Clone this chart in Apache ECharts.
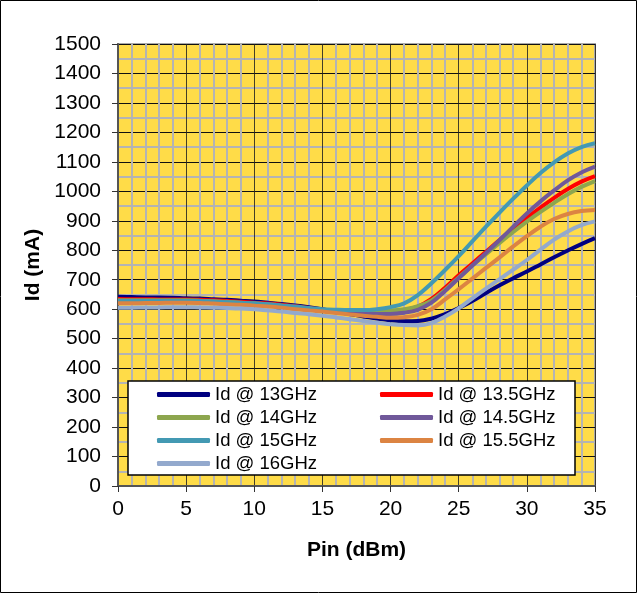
<!DOCTYPE html>
<html>
<head>
<meta charset="utf-8">
<script src="https://cdn.jsdelivr.net/npm/echarts@6/dist/echarts.min.js"></script>
<style>
html,body{margin:0;padding:0;background:#fff;}
#c{width:637px;height:593px;}
</style>
</head>
<body>
<div id="c"></div>
<script>
// Pin (dBm) sample points: 0, 1, 2, ... 35
const pinValues = [0, 1, 2, 3, 4, 5, 6, 7, 8, 9, 10, 11, 12, 13, 14, 15, 16, 17, 18, 19, 20, 21, 22, 23, 24, 25, 26, 27, 28, 29, 30, 31, 32, 33, 34, 35];
// Id (mA) per frequency
const id13 = [642, 641, 640, 640, 639, 637, 636, 634, 632, 629, 626, 622, 618, 613, 607, 600, 592, 584, 575, 568, 562, 559, 560, 568, 583, 604, 628, 655, 681, 705, 728, 752, 776, 799, 821, 841];
const id135 = [635, 634, 634, 633, 633, 633, 632, 630, 628, 625, 622, 619, 615, 610, 604, 598, 594, 591, 589, 589, 590, 597, 609, 635, 673, 715, 755, 795, 835, 873, 910, 945, 978, 1008, 1033, 1052];
const id14 = [630, 630, 630, 630, 630, 630, 629, 627, 625, 622, 620, 617, 612, 607, 602, 597, 594, 591, 590, 591, 595, 600, 610, 630, 666, 708, 748, 787, 825, 862, 897, 930, 961, 990, 1015, 1035];
const id145 = [625, 626, 626, 627, 627, 627, 626, 624, 622, 620, 618, 615, 611, 606, 600, 595, 591, 588, 585, 584, 584, 588, 598, 622, 662, 705, 748, 791, 835, 880, 925, 966, 1003, 1037, 1064, 1084];
const id15 = [628, 628, 628, 628, 628, 628, 627, 626, 624, 622, 620, 617, 613, 609, 604, 600, 598, 597, 597, 600, 607, 620, 648, 688, 733, 780, 830, 880, 928, 975, 1020, 1062, 1098, 1128, 1150, 1163];
const id155 = [620, 620, 621, 621, 622, 622, 621, 619, 617, 615, 612, 609, 605, 600, 596, 592, 587, 582, 578, 574, 571, 573, 581, 600, 633, 668, 704, 740, 776, 813, 848, 880, 906, 923, 933, 937];
const id16 = [605, 605, 606, 606, 607, 607, 606, 605, 604, 602, 600, 596, 592, 587, 583, 578, 572, 566, 560, 554, 549, 546, 545, 553, 575, 603, 637, 670, 702, 734, 767, 802, 836, 864, 885, 898];

const seriesNames = ['Id @ 13GHz', 'Id @ 13.5GHz', 'Id @ 14GHz', 'Id @ 14.5GHz', 'Id @ 15GHz', 'Id @ 15.5GHz', 'Id @ 16GHz'];
const seriesData = [id13, id135, id14, id145, id15, id155, id16];
const seriesColors = ['#000080', '#FF0000', '#8DA64E', '#70589A', '#4399B3', '#DC8442', '#93A9CD'];

const FONT = '"Liberation Sans", Arial, sans-serif';

const chart = echarts.init(document.getElementById('c'), null, {renderer: 'canvas'});

const series = seriesNames.map((name, i) => ({
  name: name,
  type: 'line',
  smooth: 0.4,
  symbol: 'none',
  z: 2,
  lineStyle: {width: 4, color: seriesColors[i]},
  itemStyle: {color: seriesColors[i]},
  data: pinValues.map((x, j) => [x, seriesData[i][j]])
}));

const legendCommon = {
  orient: 'vertical',
  icon: 'roundRect',
  itemWidth: 53,
  itemHeight: 5,
  itemGap: 4,
  z: 10,
  textStyle: {fontFamily: FONT, fontSize: 18.5, color: '#000', padding: [0, 0, 0, 0]}
};

chart.setOption({
  animation: false,
  backgroundColor: '#fff',
  grid: {
    left: 118, right: 42, top: 44, bottom: 107,
    show: true, backgroundColor: '#FFDC48', borderColor: '#A8A8A8', borderWidth: 2
  },
  xAxis: {
    type: 'value', min: 0, max: 35, interval: 5,
    name: 'Pin (dBm)', nameLocation: 'middle', nameGap: 54,
    nameTextStyle: {fontFamily: FONT, fontSize: 21, fontWeight: 'bold', color: '#000'},
    axisLine: {show: true, onZero: false, lineStyle: {color: '#555', width: 2}},
    axisTick: {show: true, inside: false, length: 6, lineStyle: {color: '#333', width: 1}},
    axisLabel: {fontFamily: FONT, fontSize: 21, color: '#000', margin: 13},
    splitLine: {show: true, lineStyle: {color: '#222', width: 1, opacity: 0.85}},
    minorTick: {show: false, splitNumber: 5},
    minorSplitLine: {show: true, lineStyle: {color: '#B4B4B4', width: 2}}
  },
  yAxis: {
    type: 'value', min: 0, max: 1500, interval: 100,
    name: 'Id (mA)', nameLocation: 'middle', nameGap: 72, nameRotate: 90,
    nameTextStyle: {fontFamily: FONT, fontSize: 21, fontWeight: 'bold', color: '#000'},
    axisLine: {show: true, lineStyle: {color: '#555', width: 2}},
    axisTick: {show: true, inside: false, length: 6, lineStyle: {color: '#333', width: 1}},
    axisLabel: {fontFamily: FONT, fontSize: 21, color: '#000', margin: 17, formatter: v => String(v)},
    splitLine: {show: true, lineStyle: {color: '#111', width: 1}},
    minorTick: {show: false, splitNumber: 2},
    minorSplitLine: {show: true, lineStyle: {color: '#B4B4B4', width: 2}}
  },
  legend: [
    Object.assign({}, legendCommon, {left: 152, top: 380, data: [seriesNames[0], seriesNames[2], seriesNames[4], seriesNames[6]]}),
    Object.assign({}, legendCommon, {left: 375, top: 380, data: [seriesNames[1], seriesNames[3], seriesNames[5]]})
  ],
  graphic: [
    {type: 'rect', z: 5, shape: {x: 128, y: 381, width: 447, height: 94}, style: {fill: '#fff', stroke: '#000', lineWidth: 1.5}},
    {type: 'rect', z: 5, silent: true, shape: {x: 0.5, y: 0.5, width: 636, height: 592}, style: {fill: 'none', stroke: '#000', lineWidth: 1}}
  ],
  series: series
});
</script>
</body>
</html>
